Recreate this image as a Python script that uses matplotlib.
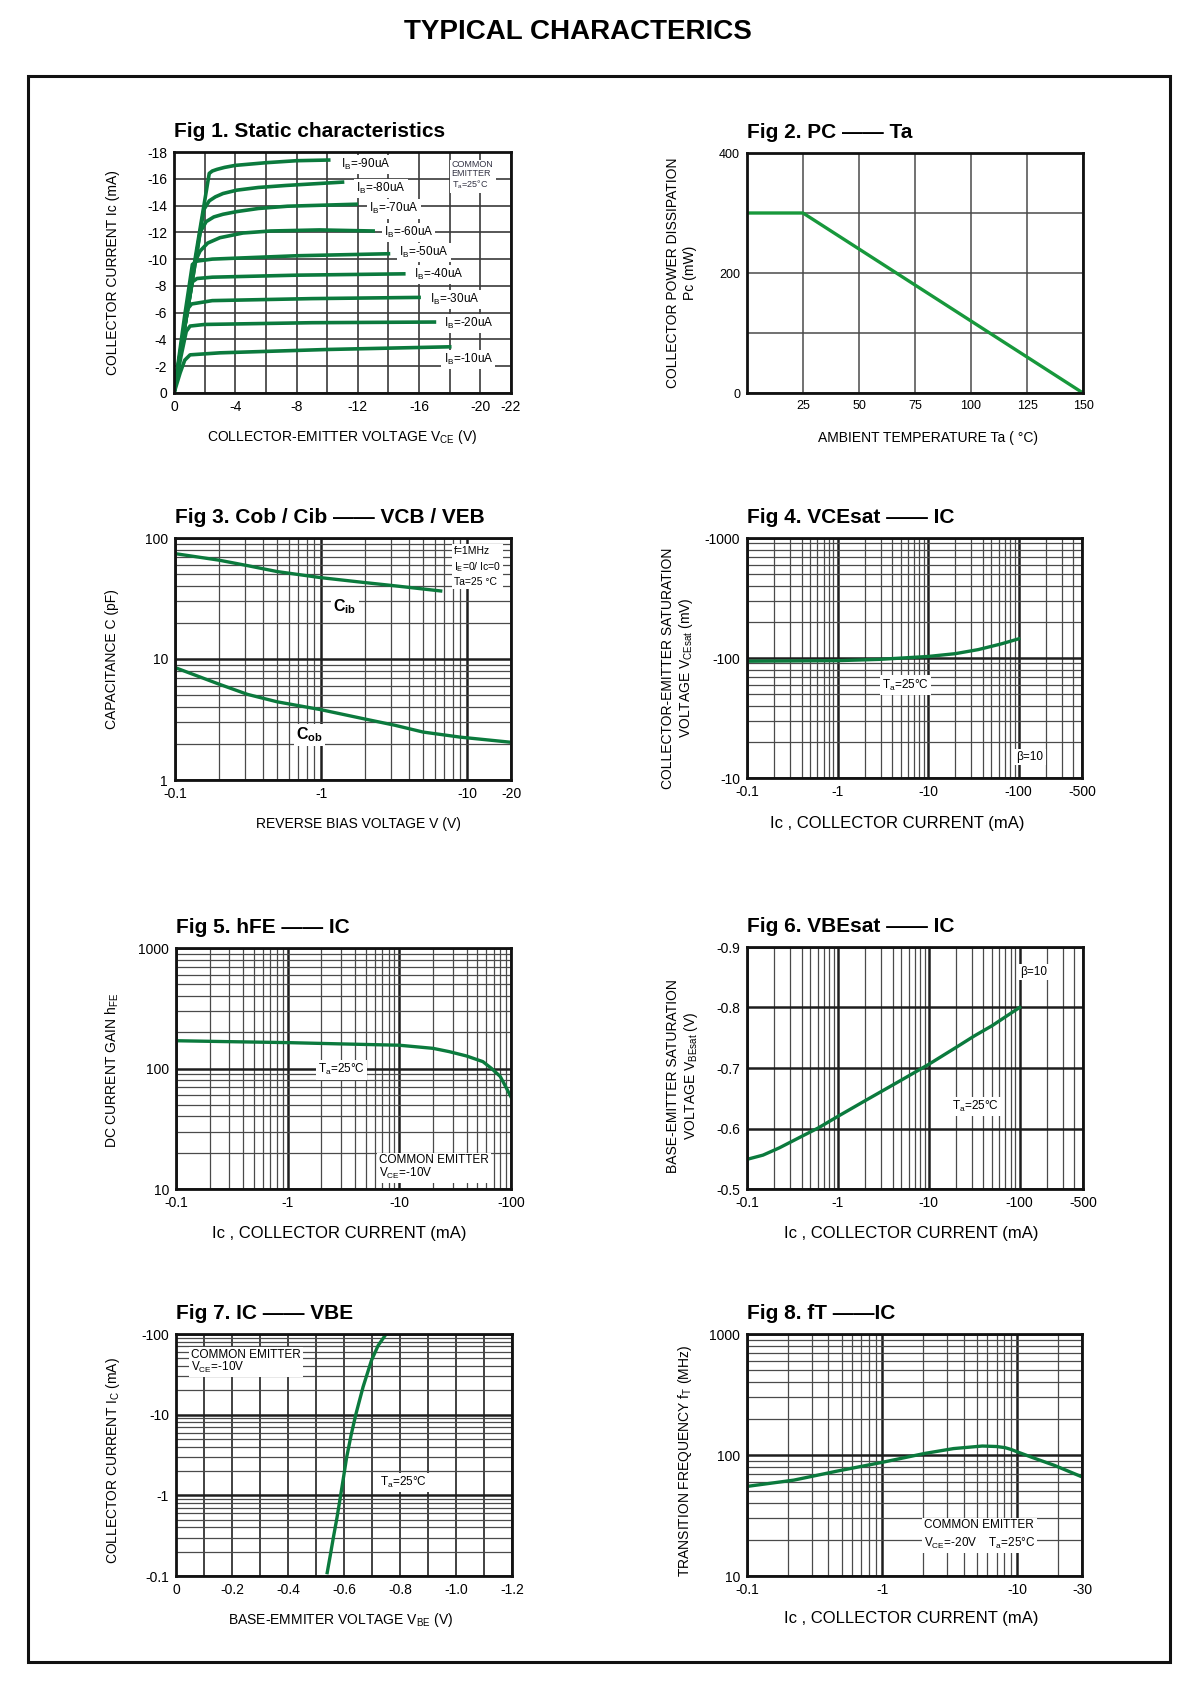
import matplotlib
matplotlib.use("Agg")
import matplotlib.pyplot as plt
import numpy as np
from matplotlib.patches import Rectangle
from matplotlib.ticker import LogLocator, NullFormatter

plt.rcParams["font.family"] = ["Liberation Sans", "DejaVu Sans"]
plt.rcParams["mathtext.fontset"] = "custom"
plt.rcParams["mathtext.rm"] = "Liberation Sans"
plt.rcParams["mathtext.it"] = "Liberation Sans"
plt.rcParams["mathtext.bf"] = "Liberation Sans:bold"
plt.rcParams["mathtext.default"] = "regular"

# ---------------- data ----------------
# Fig 1: static characteristics, one curve per base current
ib_labels = ["-90", "-80", "-70", "-60", "-50", "-40", "-30", "-20", "-10"]
vce_curves = [
    [0, -1.2, -2.3, -2.5, -2.8, -3.3, -4.0, -6.0, -8.0, -10.1],
    [0, -1.1, -1.95, -2.3, -2.7, -3.2, -4.1, -5.5, -7.3, -11.0],
    [0, -1.0, -1.7, -2.1, -2.6, -3.2, -4.1, -5.5, -7.4, -11.9],
    [0, -0.8, -1.3, -1.7, -2.2, -3.0, -4.5, -6.3, -9.5, -13.0],
    [0, -0.7, -1.2, -1.5, -2.5, -8.0, -14.0],
    [0, -0.7, -1.2, -1.5, -2.5, -8.0, -15.0],
    [0, -0.5, -0.9, -1.15, -2.5, -9.0, -16.0],
    [0, -0.45, -0.8, -1.05, -2.0, -9.0, -17.0],
    [0, -0.4, -0.7, -1.05, -3.0, -10.0, -18.0],
]
ic_curves = [
    [0, -8.8, -16.4, -16.58, -16.7, -16.85, -17.0, -17.2, -17.35, -17.4],
    [0, -7.7, -13.7, -14.35, -14.65, -14.9, -15.15, -15.35, -15.5, -15.75],
    [0, -7.0, -12.0, -12.8, -13.15, -13.35, -13.55, -13.78, -13.95, -14.1],
    [0, -6.0, -9.6, -10.6, -11.2, -11.6, -11.95, -12.1, -12.18, -12.1],
    [0, -5.8, -9.6, -9.85, -10.0, -10.25, -10.4],
    [0, -5.0, -8.3, -8.55, -8.65, -8.8, -8.9],
    [0, -3.6, -6.3, -6.65, -6.9, -7.05, -7.14],
    [0, -2.7, -4.6, -5.0, -5.12, -5.25, -5.3],
    [0, -1.5, -2.45, -2.85, -3.0, -3.25, -3.45],
]
f1_xticks = [0, -4, -8, -12, -16, -20, -22]
f1_yticks = [0, -2, -4, -6, -8, -10, -12, -14, -16, -18]

# Fig 2: power derating
ta = [0, 25, 150]
pc = [300, 300, 0]
f2_xticks = [25, 50, 75, 100, 125, 150]
f2_yticks = [0, 200, 400]

# Fig 3: capacitances
cib_v = [0.1, 0.2, 0.314, 0.5, 1.0, 2.0, 3.18, 6.6]
cib_c = [74.3, 65.6, 59.1, 52.8, 47.0, 42.8, 40.3, 36.5]
cob_v = [0.1, 0.2, 0.314, 0.5, 1.0, 2.0, 3.18, 5.0, 9.0, 20.0]
cob_c = [8.5, 6.2, 5.1, 4.43, 3.81, 3.19, 2.84, 2.49, 2.26, 2.05]

# Fig 4: VCEsat vs IC
f4_ic = [0.1, 1.0, 2.9, 10.0, 20.0, 35.8, 64.0, 100.0]
f4_v = [94, 95, 97.4, 103, 108.7, 117.5, 131, 144.5]

# Fig 5: hFE vs IC
f5_ic = [0.1, 0.3, 1, 3, 10, 20, 28, 40, 56, 67, 80, 88, 100]
f5_hfe = [170, 167, 164, 160, 156, 147, 138, 127, 114, 100, 86, 73, 58]

# Fig 6: VBEsat vs IC
f6_ic = [0.1, 0.15, 0.227, 0.4, 0.61, 1.0, 2.0, 3.25, 5.0, 10, 20, 31.8, 50, 100]
f6_v = [-0.549, -0.556, -0.568, -0.587, -0.601, -0.620, -0.646, -0.664, -0.680,
        -0.706, -0.734, -0.753, -0.770, -0.800]

# Fig 7: IC vs VBE
f7_vbe = [-0.540, -0.551, -0.562, -0.575, -0.587, -0.598, -0.609, -0.625, -0.642,
          -0.668, -0.698, -0.722, -0.746, -0.750]
f7_ic = [0.11, 0.18, 0.30, 0.53, 0.95, 1.65, 2.9, 5.5, 10.0, 22.0, 47.0, 72.0,
         95.0, 100.0]

# Fig 8: fT vs IC
f8_ic = [0.1, 0.222, 0.464, 1, 2.06, 3.37, 5.5, 7.0, 8.1, 9.0, 10, 13, 18.8, 29]
f8_ft = [55, 62, 73.6, 87, 103, 113, 118.6, 117.5, 115, 111, 106, 95, 82, 67]

# ---------------- styling helpers ----------------
W, H = 1200, 1692
GREEN = "#0b7a3d"
MAJOR_C, MINOR_C = "#1e1e1e", "#4a4a4a"
BOX = dict(facecolor="white", edgecolor="none", pad=1.5)

fig = plt.figure(figsize=(W / 100, H / 100), dpi=100)


def make_axes(x0, y0, x1, y1):
    ax = fig.add_axes([x0 / W, 1 - y1 / H, (x1 - x0) / W, (y1 - y0) / H])
    for s in ax.spines.values():
        s.set_linewidth(2.0)
        s.set_color("#111111")
        s.set_zorder(5)
    ax.tick_params(which="both", length=0, labelsize=10, pad=5)
    ax.set_axisbelow(True)
    return ax


def log_axis(axis):
    axis.set_minor_locator(LogLocator(base=10, subs=np.arange(2, 10), numticks=30))
    axis.set_minor_formatter(NullFormatter())


def grids(ax, major_lw=1.8, minor_lw=0.9):
    ax.grid(which="major", color=MAJOR_C, lw=major_lw)
    ax.grid(which="minor", color=MINOR_C, lw=minor_lw)


def title(ax, txt):
    ax.text(0, 1.085, txt, transform=ax.transAxes, ha="left", va="center",
            fontsize=15, fontweight="bold")


def labels(ax, xl, yl, xpos, ypos, xsize=10, ysize=10, ls=1.2):
    ax.set_xlabel(xl, fontsize=xsize)
    ax.set_ylabel(yl, fontsize=ysize, linespacing=ls)
    ax.xaxis.set_label_coords(xpos[0], xpos[1])
    ax.xaxis.label.set_va("center")
    ax.yaxis.set_label_coords(ypos[0], ypos[1])
    ax.yaxis.label.set_va("center")


def note(ax, x, y, txt, size=8.2, ha="center", va="center", ls=1.2, **kw):
    ax.text(x, y, txt, transform=ax.transAxes, ha=ha, va=va, fontsize=size,
            linespacing=ls, bbox=BOX, zorder=3, **kw)


# ---------------- Fig 1 ----------------
ax1 = make_axes(174, 152, 511, 393)
for vs, cs in zip(vce_curves, ic_curves):
    ax1.plot(vs, cs, color=GREEN, lw=2.6, zorder=4, solid_joinstyle="round")
ax1.set_xlim(0, -22)
ax1.set_ylim(0, -18)
ax1.set_xticks(f1_xticks, [str(v) for v in f1_xticks])
ax1.set_xticks(np.arange(-2, -21, -4), minor=True)
ax1.set_yticks(f1_yticks, [str(v) for v in f1_yticks])
ax1.grid(which="both", color="#3a3a3a", lw=1.2)
label_pos = [(-10.9, -17.05), (-11.9, -15.25), (-12.75, -13.75), (-13.7, -12.0),
             (-14.7, -10.5), (-15.7, -8.85), (-16.7, -7.0), (-17.65, -5.2),
             (-17.6, -2.5)]
for lab, (lx, ly) in zip(ib_labels, label_pos):
    ax1.text(lx, ly, "I$_B$=" + lab + "uA", ha="left", va="center", fontsize=8.5,
             bbox=BOX, zorder=3)
note(ax1, 0.824, 0.965, "COMMON\nEMITTER\nT$_a$=25°C", size=6.5, ha="left", va="top",
     ls=1.0, color="#333344")
title(ax1, "Fig 1. Static characteristics")
labels(ax1, "COLLECTOR-EMITTER VOLTAGE V$_{CE}$ (V)", "COLLECTOR CURRENT Ic (mA)",
       (0.5, -0.183), (-0.181, 0.5))

# ---------------- Fig 2 ----------------
ax2 = make_axes(747, 153, 1083, 393)
ax2.plot(ta, pc, color="#17983b", lw=2.4, zorder=4)
ax2.set_xlim(0, 150)
ax2.set_ylim(0, 400)
ax2.set_xticks(f2_xticks, [str(v) for v in f2_xticks])
ax2.set_yticks(f2_yticks, [str(v) for v in f2_yticks])
ax2.set_yticks([100, 300], minor=True)
ax2.grid(which="both", color="#4a4a4a", lw=1.1)
ax2.tick_params(labelsize=9)
title(ax2, "Fig 2. PC —— Ta")
labels(ax2, "AMBIENT TEMPERATURE Ta ( °C)", "COLLECTOR POWER DISSIPATION\nPc (mW)",
       (0.539, -0.1875), (-0.196, 0.5), ls=1.25)

# ---------------- Fig 3 ----------------
ax3 = make_axes(175, 538, 511, 780)
ax3.plot(cib_v, cib_c, color=GREEN, lw=2.4, zorder=4)
ax3.plot(cob_v, cob_c, color=GREEN, lw=2.4, zorder=4)
ax3.set_xscale("log")
ax3.set_yscale("log")
ax3.set_xlim(0.1, 20)
ax3.set_ylim(1, 100)
log_axis(ax3.xaxis)
log_axis(ax3.yaxis)
ax3.set_xticks([0.1, 1, 10, 20], ["-0.1", "-1", "-10", "-20"])
ax3.set_yticks([1, 10, 100], ["1", "10", "100"])
grids(ax3)
note(ax3, 0.506, 0.716, "C$_{ib}$", size=11.5, fontweight="bold")
note(ax3, 0.40, 0.186, "C$_{ob}$", size=11.5, fontweight="bold")
note(ax3, 0.83, 0.965, "f=1MHz\nI$_E$=0/ Ic=0\nTa=25 °C", size=7.5, ha="left",
     va="top", ls=1.35)
title(ax3, "Fig 3. Cob / Cib —— VCB / VEB")
labels(ax3, "REVERSE BIAS VOLTAGE V (V)", "CAPACITANCE C (pF)",
       (0.545, -0.182), (-0.1875, 0.5))

# ---------------- Fig 4 ----------------
ax4 = make_axes(747, 538, 1082, 778)
ax4.plot(f4_ic, f4_v, color=GREEN, lw=2.4, zorder=4)
ax4.set_xscale("log")
ax4.set_yscale("log")
ax4.set_xlim(0.1, 500)
ax4.set_ylim(10, 1000)
log_axis(ax4.xaxis)
log_axis(ax4.yaxis)
ax4.set_xticks([0.1, 1, 10, 100, 500], ["-0.1", "-1", "-10", "-100", "-500"])
ax4.set_yticks([10, 100, 1000], ["-10", "-100", "-1000"])
grids(ax4)
note(ax4, 0.472, 0.3875, "T$_a$=25°C", size=8.5)
note(ax4, 0.845, 0.086, "β=10", size=8.5)
title(ax4, "Fig 4. VCEsat —— IC")
labels(ax4, "Ic , COLLECTOR CURRENT (mA)",
       "COLLECTOR-EMITTER SATURATION\nVOLTAGE V$_{CEsat}$ (mV)",
       (0.448, -0.1875), (-0.206, 0.458), xsize=12, ls=1.15)

# ---------------- Fig 5 ----------------
ax5 = make_axes(176, 948, 511, 1189)
ax5.plot(f5_ic, f5_hfe, color=GREEN, lw=2.4, zorder=4)
ax5.set_xscale("log")
ax5.set_yscale("log")
ax5.set_xlim(0.1, 100)
ax5.set_ylim(10, 1000)
log_axis(ax5.xaxis)
log_axis(ax5.yaxis)
ax5.set_xticks([0.1, 1, 10, 100], ["-0.1", "-1", "-10", "-100"])
ax5.set_yticks([10, 100, 1000], ["10", "100", "1000"])
grids(ax5)
note(ax5, 0.495, 0.494, "T$_a$=25°C", size=8.5)
note(ax5, 0.607, 0.145, "COMMON EMITTER\nV$_{CE}$=-10V", size=8.5, ha="left",
     va="top", ls=0.95)
title(ax5, "Fig 5. hFE —— IC")
labels(ax5, "Ic , COLLECTOR CURRENT (mA)", "DC CURRENT GAIN h$_{FE}$",
       (0.486, -0.183), (-0.19, 0.49), xsize=12)

# ---------------- Fig 6 ----------------
ax6 = make_axes(747, 947, 1083, 1189)
ax6.plot(f6_ic, f6_v, color=GREEN, lw=2.4, zorder=4)
ax6.set_xscale("log")
ax6.set_xlim(0.1, 500)
ax6.set_ylim(-0.5, -0.9)
log_axis(ax6.xaxis)
ax6.set_xticks([0.1, 1, 10, 100, 500], ["-0.1", "-1", "-10", "-100", "-500"])
f6_yticks = [-0.5, -0.6, -0.7, -0.8, -0.9]
ax6.set_yticks(f6_yticks, [str(v) for v in f6_yticks])
grids(ax6)
note(ax6, 0.852, 0.898, "β=10", size=8.5)
note(ax6, 0.679, 0.34, "T$_a$=25°C", size=8.5)
title(ax6, "Fig 6. VBEsat —— IC")
labels(ax6, "Ic , COLLECTOR CURRENT (mA)",
       "BASE-EMITTER SATURATION\nVOLTAGE V$_{BEsat}$ (V)",
       (0.488, -0.183), (-0.19, 0.467), xsize=12, ls=1.15)

# ---------------- Fig 7 ----------------
ax7 = make_axes(176, 1334, 512, 1576)
ax7.plot(f7_vbe, f7_ic, color=GREEN, lw=2.4, zorder=4)
ax7.set_yscale("log")
ax7.set_xlim(0, -1.2)
ax7.set_ylim(0.1, 100)
log_axis(ax7.yaxis)
f7_xticks = [0, -0.2, -0.4, -0.6, -0.8, -1.0, -1.2]
ax7.set_xticks(f7_xticks, ["0", "-0.2", "-0.4", "-0.6", "-0.8", "-1.0", "-1.2"])
ax7.set_xticks([-0.1, -0.3, -0.5, -0.7, -0.9, -1.1], minor=True)
ax7.set_yticks([0.1, 1, 10, 100], ["-0.1", "-1", "-10", "-100"])
ax7.grid(which="major", axis="y", color=MAJOR_C, lw=1.8)
ax7.grid(which="minor", axis="y", color=MINOR_C, lw=0.9)
ax7.grid(which="both", axis="x", color="#333333", lw=1.3)
note(ax7, 0.044, 0.94, "COMMON EMITTER\nV$_{CE}$=-10V", size=8.5, ha="left",
     va="top", ls=0.95)
note(ax7, 0.676, 0.387, "T$_a$=25°C", size=8.5)
title(ax7, "Fig 7. IC —— VBE")
labels(ax7, "BASE-EMMITER VOLTAGE V$_{BE}$ (V)", "COLLECTOR CURRENT I$_C$ (mA)",
       (0.491, -0.182), (-0.1875, 0.475))

# ---------------- Fig 8 ----------------
ax8 = make_axes(747, 1334, 1082, 1576)
ax8.plot(f8_ic, f8_ft, color=GREEN, lw=2.4, zorder=4)
ax8.set_xscale("log")
ax8.set_yscale("log")
ax8.set_xlim(0.1, 30)
ax8.set_ylim(10, 1000)
log_axis(ax8.xaxis)
log_axis(ax8.yaxis)
ax8.set_xticks([0.1, 1, 10, 30], ["-0.1", "-1", "-10", "-30"])
ax8.set_yticks([10, 100, 1000], ["10", "100", "1000"])
grids(ax8)
note(ax8, 0.528, 0.235, "COMMON EMITTER\nV$_{CE}$=-20V    T$_a$=25°C", size=8.5,
     ha="left", va="top", ls=1.45)
title(ax8, "Fig 8. fT ——IC")
labels(ax8, "Ic , COLLECTOR CURRENT (mA)", "TRANSITION FREQUENCY f$_T$ (MHz)",
       (0.49, -0.174), (-0.185, 0.475), xsize=12)

# ---------------- page frame and heading ----------------
fig.add_artist(Rectangle((28 / W, 1 - 1662 / H), 1142 / W, 1586 / H,
                         transform=fig.transFigure, fill=False, lw=2.2,
                         ec="#111111"))
fig.text(578 / W, 1 - 32 / H, "TYPICAL CHARACTERICS", ha="center", va="center",
         fontsize=20, fontweight="bold")

fig.savefig("out.png", dpi=100, facecolor="white")
